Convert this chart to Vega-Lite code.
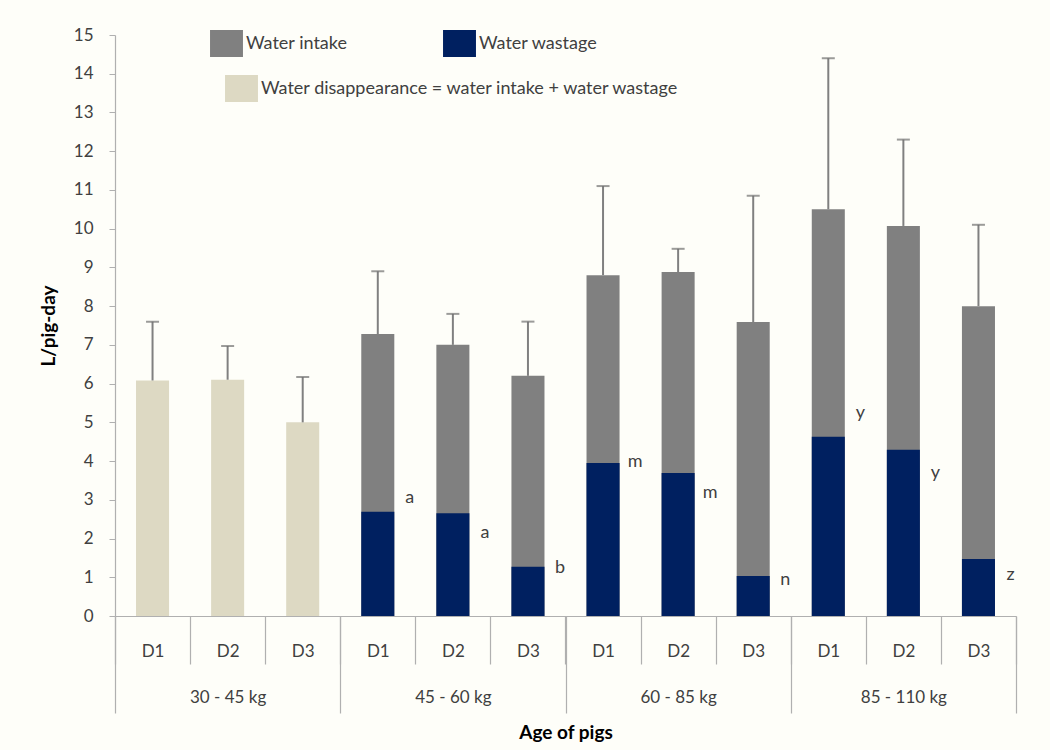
{
  "$schema": "https://vega.github.io/schema/vega-lite/v6.json",
  "width": 901,
  "height": 581,
  "autosize": "none",
  "padding": {"left": 115, "top": 35, "right": 34, "bottom": 134},
  "background": "#fefef9",
  "config": {
    "view": {"stroke": null},
    "font": "Lato",
    "axis": {"grid": false, "labelFont": "Lato", "titleFont": "Lato"},
    "axisY": {
      "values": [0, 1, 2, 3, 4, 5, 6, 7, 8, 9, 10, 11, 12, 13, 14, 15],
      "labelOverlap": false,
      "labelFontSize": 17,
      "labelColor": "#404040",
      "tickSize": 6,
      "tickColor": "#b0b0b0",
      "domainColor": "#b0b0b0",
      "domainWidth": 1.2,
      "labelPadding": 16,
      "titleFontSize": 19,
      "titleFontWeight": "bold",
      "titleColor": "#000000",
      "titlePadding": 15
    },
    "legend": {"labelFont": "Lato"}
  },
  "datasets": {
    "dis": [
      {"bar": "30 - 45 kg|D1", "series": "Water disappearance = water intake + water wastage", "value": 6.08},
      {"bar": "30 - 45 kg|D2", "series": "Water disappearance = water intake + water wastage", "value": 6.1},
      {"bar": "30 - 45 kg|D3", "series": "Water disappearance = water intake + water wastage", "value": 5.0}
    ],
    "bars": [
      {"bar": "45 - 60 kg|D1", "series": "Water intake", "value": 7.28},
      {"bar": "45 - 60 kg|D2", "series": "Water intake", "value": 7.0},
      {"bar": "45 - 60 kg|D3", "series": "Water intake", "value": 6.2},
      {"bar": "60 - 85 kg|D1", "series": "Water intake", "value": 8.8},
      {"bar": "60 - 85 kg|D2", "series": "Water intake", "value": 8.88},
      {"bar": "60 - 85 kg|D3", "series": "Water intake", "value": 7.59},
      {"bar": "85 - 110 kg|D1", "series": "Water intake", "value": 10.5},
      {"bar": "85 - 110 kg|D2", "series": "Water intake", "value": 10.07},
      {"bar": "85 - 110 kg|D3", "series": "Water intake", "value": 8.0},
      {"bar": "45 - 60 kg|D1", "series": "Water wastage", "value": 2.69},
      {"bar": "45 - 60 kg|D2", "series": "Water wastage", "value": 2.65},
      {"bar": "45 - 60 kg|D3", "series": "Water wastage", "value": 1.27},
      {"bar": "60 - 85 kg|D1", "series": "Water wastage", "value": 3.95},
      {"bar": "60 - 85 kg|D2", "series": "Water wastage", "value": 3.69},
      {"bar": "60 - 85 kg|D3", "series": "Water wastage", "value": 1.03},
      {"bar": "85 - 110 kg|D1", "series": "Water wastage", "value": 4.63},
      {"bar": "85 - 110 kg|D2", "series": "Water wastage", "value": 4.29},
      {"bar": "85 - 110 kg|D3", "series": "Water wastage", "value": 1.47}
    ],
    "err": [
      {"bar": "30 - 45 kg|D1", "total": 6.08, "upper": 7.6},
      {"bar": "30 - 45 kg|D2", "total": 6.1, "upper": 6.97},
      {"bar": "30 - 45 kg|D3", "total": 5.0, "upper": 6.17},
      {"bar": "45 - 60 kg|D1", "total": 7.28, "upper": 8.9},
      {"bar": "45 - 60 kg|D2", "total": 7.0, "upper": 7.8},
      {"bar": "45 - 60 kg|D3", "total": 6.2, "upper": 7.6},
      {"bar": "60 - 85 kg|D1", "total": 8.8, "upper": 11.1},
      {"bar": "60 - 85 kg|D2", "total": 8.88, "upper": 9.48},
      {"bar": "60 - 85 kg|D3", "total": 7.59, "upper": 10.85},
      {"bar": "85 - 110 kg|D1", "total": 10.5, "upper": 14.4},
      {"bar": "85 - 110 kg|D2", "total": 10.07, "upper": 12.3},
      {"bar": "85 - 110 kg|D3", "total": 8.0, "upper": 10.1}
    ],
    "letters": [
      {"bar": "45 - 60 kg|D1", "letter": "a", "pos": 3.05},
      {"bar": "45 - 60 kg|D2", "letter": "a", "pos": 2.14},
      {"bar": "45 - 60 kg|D3", "letter": "b", "pos": 1.24},
      {"bar": "60 - 85 kg|D1", "letter": "m", "pos": 3.98},
      {"bar": "60 - 85 kg|D2", "letter": "m", "pos": 3.18},
      {"bar": "60 - 85 kg|D3", "letter": "n", "pos": 0.93},
      {"bar": "85 - 110 kg|D1", "letter": "y", "pos": 5.24},
      {"bar": "85 - 110 kg|D2", "letter": "y", "pos": 3.69},
      {"bar": "85 - 110 kg|D3", "letter": "z", "pos": 1.06}
    ],
    "groups": [
      {"group": "30 - 45 kg"},
      {"group": "45 - 60 kg"},
      {"group": "60 - 85 kg"},
      {"group": "85 - 110 kg"}
    ]
  },
  "layer": [
    {
      "encoding": {
        "x": {
          "field": "bar",
          "type": "nominal",
          "scale": {
            "domain": ["30 - 45 kg|D1", "30 - 45 kg|D2", "30 - 45 kg|D3", "45 - 60 kg|D1", "45 - 60 kg|D2", "45 - 60 kg|D3", "60 - 85 kg|D1", "60 - 85 kg|D2", "60 - 85 kg|D3", "85 - 110 kg|D1", "85 - 110 kg|D2", "85 - 110 kg|D3"],
            "paddingInner": 0,
            "paddingOuter": 0
          },
          "axis": {
            "orient": "bottom",
            "title": null,
            "labelExpr": "split(datum.value, '|')[1]",
            "labelAngle": 0,
            "labelFontSize": 17,
            "labelColor": "#404040",
            "tickBand": "extent",
            "tickSize": 48,
            "tickColor": "#b0b0b0",
            "tickWidth": 1.2,
            "domainColor": "#b0b0b0",
            "domainWidth": 1.2,
            "labelPadding": -21,
            "labelBaseline": "top"
          }
        }
      },
      "layer": [
        {
          "data": {"name": "dis"},
          "mark": {"type": "bar", "width": {"band": 0.44}},
          "encoding": {
            "y": {
              "field": "value",
              "type": "quantitative",
              "title": "L/pig-day",
              "scale": {"domain": [0, 15], "nice": false}
            },
            "color": {
              "field": "series",
              "type": "nominal",
              "scale": {"domain": ["Water disappearance = water intake + water wastage"], "range": ["#ddd9c3"]},
              "legend": {
                "title": null,
                "orient": "none",
                "legendX": 113,
                "legendY": 40,
                "symbolType": "M-1.22,-1H1.22V1H-1.22Z",
                "symbolSize": 729,
                "symbolStrokeWidth": 0,
                "labelFontSize": 18,
                "labelColor": "#404040",
                "labelOffset": 6,
                "labelLimit": 700
              }
            }
          }
        },
        {
          "layer": [
            {
              "data": {"name": "bars"},
              "transform": [{"filter": "datum.series === 'Water intake'"}],
              "mark": {"type": "bar", "width": {"band": 0.44}},
              "encoding": {
                "y": {"field": "value", "type": "quantitative", "title": "L/pig-day", "scale": {"domain": [0, 15], "nice": false}},
                "color": {
                  "field": "series",
                  "type": "nominal",
                  "scale": {"domain": ["Water intake", "Water wastage"], "range": ["#808080", "#002060"]},
                  "legend": {
                    "title": null,
                    "orient": "none",
                    "direction": "horizontal",
                    "columns": 2,
                    "legendX": 98,
                    "legendY": -5,
                    "symbolType": "M-1.22,-1H1.22V1H-1.22Z",
                    "symbolSize": 729,
                    "symbolStrokeWidth": 0,
                    "labelFontSize": 18,
                    "labelColor": "#404040",
                    "labelOffset": 6,
                    "columnPadding": 95
                  }
                }
              }
            },
            {
              "data": {"name": "bars"},
              "transform": [{"filter": "datum.series === 'Water wastage'"}],
              "mark": {"type": "bar", "width": {"band": 0.44}},
              "encoding": {
                "y": {"field": "value", "type": "quantitative", "title": "L/pig-day", "scale": {"domain": [0, 15], "nice": false}},
                "color": {"field": "series", "type": "nominal"}
              }
            }
          ]
        },
        {
          "data": {"name": "err"},
          "mark": {"type": "rule", "color": "#808080", "strokeWidth": 2},
          "encoding": {
            "y": {"field": "total", "type": "quantitative", "title": "L/pig-day", "scale": {"domain": [0, 15], "nice": false}},
            "y2": {"field": "upper"}
          }
        },
        {
          "data": {"name": "err"},
          "mark": {"type": "tick", "color": "#707070", "size": 13, "thickness": 2},
          "encoding": {
            "y": {"field": "upper", "type": "quantitative", "title": "L/pig-day", "scale": {"domain": [0, 15], "nice": false}}
          }
        },
        {
          "data": {"name": "letters"},
          "mark": {"type": "text", "dx": 32, "fontSize": 18, "color": "#404040", "baseline": "middle", "align": "center"},
          "encoding": {
            "y": {"field": "pos", "type": "quantitative", "title": "L/pig-day", "scale": {"domain": [0, 15], "nice": false}},
            "text": {"field": "letter"}
          }
        }
      ],
      "resolve": {"scale": {"color": "independent"}}
    },
    {
      "data": {"name": "groups"},
      "mark": {"type": "bar", "opacity": 0},
      "encoding": {
        "x": {
          "field": "group",
          "type": "nominal",
          "sort": null,
          "scale": {"paddingInner": 0, "paddingOuter": 0},
          "axis": {
            "orient": "bottom",
            "title": "Age of pigs",
            "titleFontSize": 19,
            "titleFontWeight": "bold",
            "titleColor": "#000000",
            "titlePadding": 10,
            "labelAngle": 0,
            "labelFontSize": 17,
            "labelColor": "#404040",
            "tickBand": "extent",
            "tickSize": 97,
            "tickColor": "#b0b0b0",
            "tickWidth": 1.2,
            "domain": false,
            "labelPadding": -24,
            "labelBaseline": "top"
          }
        }
      }
    }
  ],
  "resolve": {"scale": {"x": "independent"}}
}
